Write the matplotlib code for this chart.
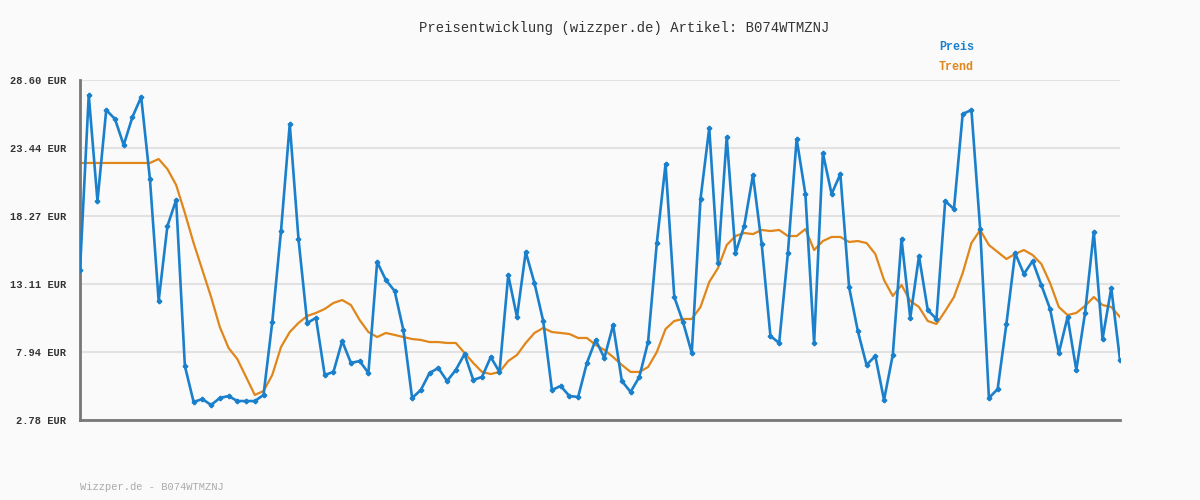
import matplotlib
matplotlib.use("Agg")
import matplotlib.pyplot as plt

preis = [14.17,27.46,19.41,26.32,25.64,23.66,25.79,27.31,21.08,11.82,17.51,19.49,6.88,4.15,4.37,3.92,4.45,4.60,4.22,4.22,
         4.22,4.68,10.22,17.13,25.26,16.53,10.15,10.53,6.20,6.43,8.78,7.11,7.26,6.35,14.78,13.41,12.58,9.61,4.45,5.06,
         6.35,6.73,5.74,6.58,7.79,5.82,6.05,7.56,6.43,13.79,10.60,15.54,13.18,10.30,5.06,5.36,4.60,4.53,7.11,8.86,
         7.49,9.99,5.74,4.91,6.05,8.70,16.22,22.22,12.12,10.22,7.87,19.56,24.95,14.70,24.27,15.46,17.51,21.39,16.15,9.16,
         8.63,15.46,24.12,19.94,8.63,23.06,19.94,21.46,12.88,9.54,6.96,7.64,4.30,7.72,16.53,10.53,15.23,11.13,10.45,19.41,
         18.80,26.02,26.32,17.28,4.45,5.13,10.07,15.46,13.87,14.85,13.03,11.21,7.87,10.60,6.58,10.91,17.06,8.93,12.80,7.34]
trend = [22.30]*9 + [22.60,21.84,20.63,18.50,16.22,14.17,12.12,9.84,8.25,7.41,6.05,
         4.68,4.98,6.20,8.32,9.46,10.15,10.68,10.91,11.21,11.67,11.89,11.51,10.37,9.46,9.08,9.39,9.24,9.08,8.93,8.86,
         8.70,8.70,8.63,8.63,7.87,7.11,6.43,6.27,6.43,7.26,7.72,8.63,9.39,9.77,9.46,9.39,9.31,9.01,9.01,8.48,
         8.10,7.56,6.96,6.43,6.43,6.80,7.94,9.69,10.30,10.45,10.45,11.36,13.26,14.32,16.07,16.75,16.98,16.90,17.21,17.13,
         17.21,16.75,16.75,17.28,15.69,16.37,16.68,16.68,16.30,16.37,16.22,15.39,13.41,12.20,13.03,11.82,11.36,10.30,10.07,11.06,
         12.12,13.94,16.22,17.21,16.07,15.54,15.01,15.39,15.69,15.31,14.63,13.18,11.36,10.75,10.91,11.44,12.12,11.51,11.36,10.60]
yticks = [2.78, 7.94, 13.11, 18.27, 23.44, 28.60]
ytick_labels = [f"{v:.2f} EUR" for v in yticks]
title = "Preisentwicklung (wizzper.de) Artikel: B074WTMZNJ"

mono = "Liberation Mono"
fig = plt.figure(figsize=(12, 5), dpi=100, facecolor="#fafafa")
ax = fig.add_axes([80/1200, 80/500, 1040/1200, 340/500], facecolor="#fafafa")
x = list(range(len(preis)))
ax.plot(x, trend, color="#e0861a", lw=1.6, zorder=2)
ax.plot(x, preis, color="#1a80cc", lw=1.9, marker="P", ms=3, zorder=3)
ax.set_xlim(0, len(preis) - 1)
ax.set_ylim(2.78, 28.60)
ax.set_yticks(yticks)
ax.set_yticklabels(ytick_labels, family=mono, fontsize=7.5, fontweight="bold", color="#333333")
ax.set_xticks([])
ax.grid(axis="y", color="#e2e2e2", lw=1.5)
ax.set_axisbelow(True)
ax.tick_params(axis="y", length=0, pad=10)
for s in ["top", "right"]:
    ax.spines[s].set_visible(False)
for s in ["left", "bottom"]:
    ax.spines[s].set_color("#777777")
    ax.spines[s].set_linewidth(2)
fig.text(624/1200, 1 - 28/500, title, family=mono, fontsize=10, ha="center", va="center", color="#333333")
fig.text(939/1200, 1 - 47/500, "Preis", family=mono, fontsize=8.5, fontweight="bold", color="#1a80cc", va="center")
fig.text(939/1200, 1 - 67/500, "Trend", family=mono, fontsize=8.5, fontweight="bold", color="#e0861a", va="center")
fig.text(80/1200, 1 - 487/500, "Wizzper.de - B074WTMZNJ", family=mono, fontsize=7.5, color="#aaaaaa", va="center")
fig.savefig("out.png", dpi=100, facecolor="#fafafa")
